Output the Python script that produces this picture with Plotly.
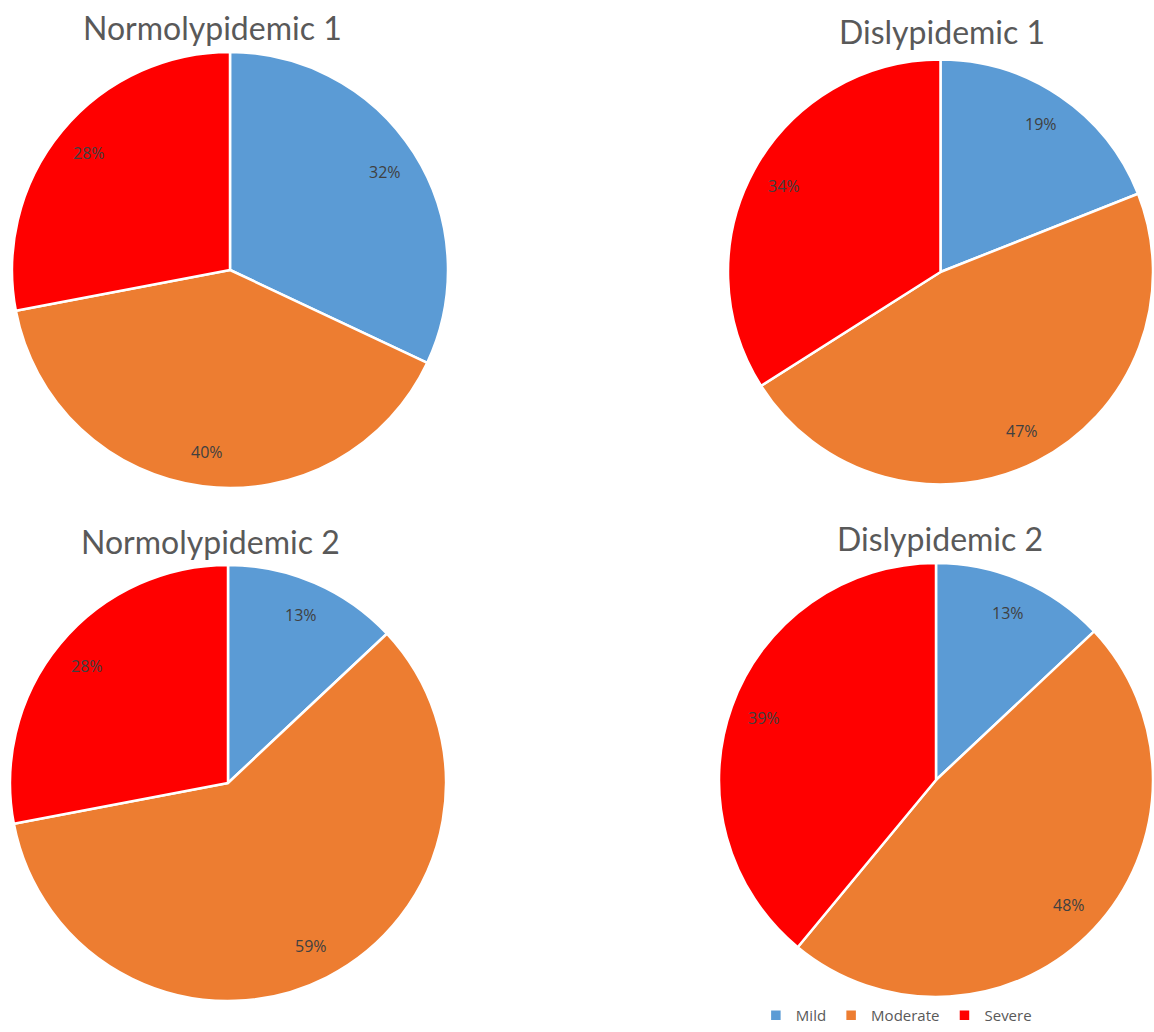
import math
import plotly.graph_objects as go

categories = ["Mild", "Moderate", "Severe"]
titles = ["Normolypidemic 1", "Dislypidemic 1", "Normolypidemic 2", "Dislypidemic 2"]
normo1 = [32, 40, 28]
dislip1 = [19, 47, 34]
normo2 = [13, 59, 28]
dislip2 = [13, 48, 39]
series = [normo1, dislip1, normo2, dislip2]
colors = ["#5B9BD5", "#ED7D31", "#FF0000"]

W, H = 1154, 1032
# pixel boxes: (left, top, width, height)
boxes = [(12, 52, 436, 436), (728, 54, 425, 436), (10, 565, 436, 436), (719, 562, 434, 436)]
LABEL_R = 0.84

fig = go.Figure()
for i, (vals, title, box) in enumerate(zip(series, titles, boxes)):
    l, t, w, h = box
    fig.add_trace(go.Pie(
        labels=categories, values=vals, sort=False, direction="clockwise", rotation=0,
        marker=dict(colors=colors, line=dict(color="white", width=2.5)),
        textinfo="none",
        domain=dict(x=[l / W, min(1, (l + w) / W)], y=[1 - (t + h) / H, 1 - t / H]),
        showlegend=(i == 0), hoverinfo="label+percent",
    ))
    # percentage labels placed near the rim, like the original
    cx, cy, r = l + w / 2, t + h / 2, min(w, h) / 2
    total = sum(vals)
    cum = 0
    for v in vals:
        theta = 2 * math.pi * (cum + v / 2) / total
        cum += v
        px = cx + LABEL_R * r * math.sin(theta)
        py = cy - LABEL_R * r * math.cos(theta)
        fig.add_annotation(text=f"{v}%", x=px / W, y=1 - py / H, xref="paper", yref="paper",
                           showarrow=False, xanchor="center", yanchor="middle",
                           font=dict(family="Open Sans, sans-serif", size=16, color="#404040"))

title_pos = [(212, 27), (942, 31), (210, 541), (940, 538)]
for title, (x, y) in zip(titles, title_pos):
    fig.add_annotation(text=title, x=x / W, y=1 - y / H, xref="paper", yref="paper",
                       showarrow=False, xanchor="center", yanchor="middle",
                       font=dict(family="Lato, sans-serif", size=32, color="#595959"))

fig.update_layout(
    width=W, height=H, margin=dict(l=0, r=0, t=0, b=0),
    paper_bgcolor="white", plot_bgcolor="white",
    legend=dict(orientation="h", x=0.655, y=0.0, xanchor="left", yanchor="bottom",
                font=dict(family="Open Sans, sans-serif", size=15, color="#595959"),
                itemwidth=30, traceorder="normal"),
)
fig.write_html("out.html")
